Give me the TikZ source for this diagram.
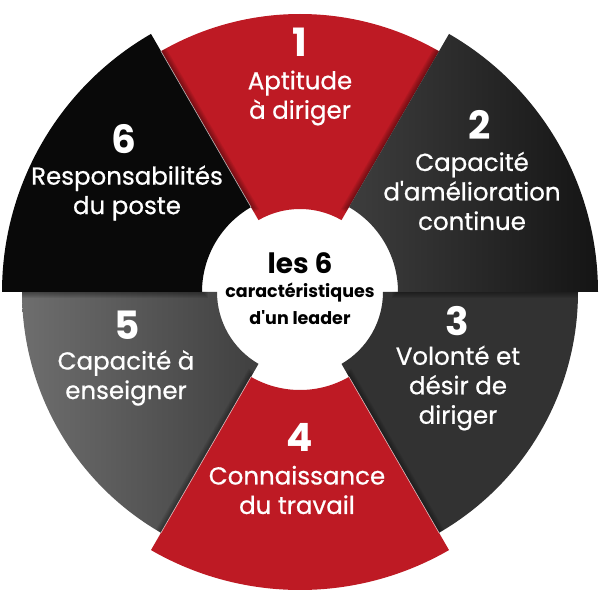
\documentclass[tikz,border=0pt]{standalone}
\usepackage{fontspec}
\newfontfamily\pop{Poppins}
\newfontfamily\popm{Poppins}[FakeBold=0.7]
\definecolor{segred}{HTML}{BE1A24}
\definecolor{segthree}{HTML}{323232}
\definecolor{segsix}{HTML}{090909}
\newcommand\ringsector[4]{%
  ([shift={(#1:#3)}]O) arc[start angle=#1, end angle=#2, radius=#3]
  -- ([shift={(#2:#4)}]O) arc[start angle=#2, end angle=#1, radius=#4] -- cycle}
\begin{document}
\begin{tikzpicture}[x=1pt,y=1pt,
  lbl/.style={text=white, font=\popm\fontsize{24.5}{29.5}\selectfont, align=center, inner sep=0pt},
  num/.style={text=white, font=\pop\fontsize{39}{39}\selectfont\bfseries, inner sep=0pt},
  ctrbig/.style={text=black, font=\pop\fontsize{28}{28}\selectfont\bfseries, inner sep=0pt},
  ctrsmall/.style={text=black, font=\pop\fontsize{17.5}{17.5}\selectfont\bfseries, inner sep=0pt},
  shadowline/.style={draw=black, draw opacity=0.07, fill=none},
  seam/.style={draw=white, draw opacity=0.6, line width=0.7pt}]
\useasboundingbox (0,0) rectangle (600,600);
\fill[white] (0,0) rectangle (600,600);
\coordinate (O) at (300,308);
% odd segments (smaller)
\fill[segred] \ringsector{60}{120}{278}{83};
\fill[segthree] \ringsector{-60}{0}{278}{83};
\path[left color=black!57, right color=black!75] \ringsector{180}{240}{278}{83};
% shadows cast by even segments onto odd ones
\begin{scope}
  \clip \ringsector{60}{120}{278}{83} \ringsector{-60}{0}{278}{83} \ringsector{180}{240}{278}{83};
  \foreach \w in {2,4,6,8,10,12} {
    \draw[shadowline, line width=\w pt] \ringsector{0}{60}{298}{98};
    \draw[shadowline, line width=\w pt] \ringsector{240}{300}{298}{98};
    \draw[shadowline, line width=\w pt] \ringsector{120}{180}{298}{98};
  }
\end{scope}
% even segments (larger)
\path[left color=black!76, right color=black!92] \ringsector{0}{60}{298}{98};
\fill[segred] \ringsector{240}{300}{298}{98};
\fill[segsix] \ringsector{120}{180}{298}{98};
% thin light seams along the slanted edges
\draw[seam] ([shift={(120:98)}]O) -- ([shift={(120:278)}]O);
\draw[seam] ([shift={(240:98)}]O) -- ([shift={(240:278)}]O);
\draw[seam] ([shift={(300:98)}]O) -- ([shift={(300:278)}]O);
% numbers
\node[num] (n1) at (300,558) {1};
\node[num] (n2) at (480,475) {2};
\node[num] (n3) at (457,279) {3};
\node[num] (n4) at (300,163) {4};
\node[num] (n5) at (127,275) {5};
\node[num] (n6) at (124,461) {6};
% labels
\node[lbl] (l1) at (300,502) {Aptitude\\à diriger};
\node[lbl] (l2) at (472,409) {Capacité\\d'amélioration\\continue};
\node[lbl] (l3) at (458,212) {Volonté et\\désir de\\diriger};
\node[lbl] (l4) at (297,110) {Connaissance\\du travail};
\node[lbl] (l5) at (126,222) {Capacité à\\enseigner};
\node[lbl] (l6) at (127,407) {Responsabilités\\du poste};
% centre
\node[ctrbig] (c1) at (300,337) {les 6};
\node[ctrsmall] (c2) at (300,307) {caractéristiques};
\node[ctrsmall] (c3) at (300,282) {d'un leader};
\end{tikzpicture}
\end{document}
